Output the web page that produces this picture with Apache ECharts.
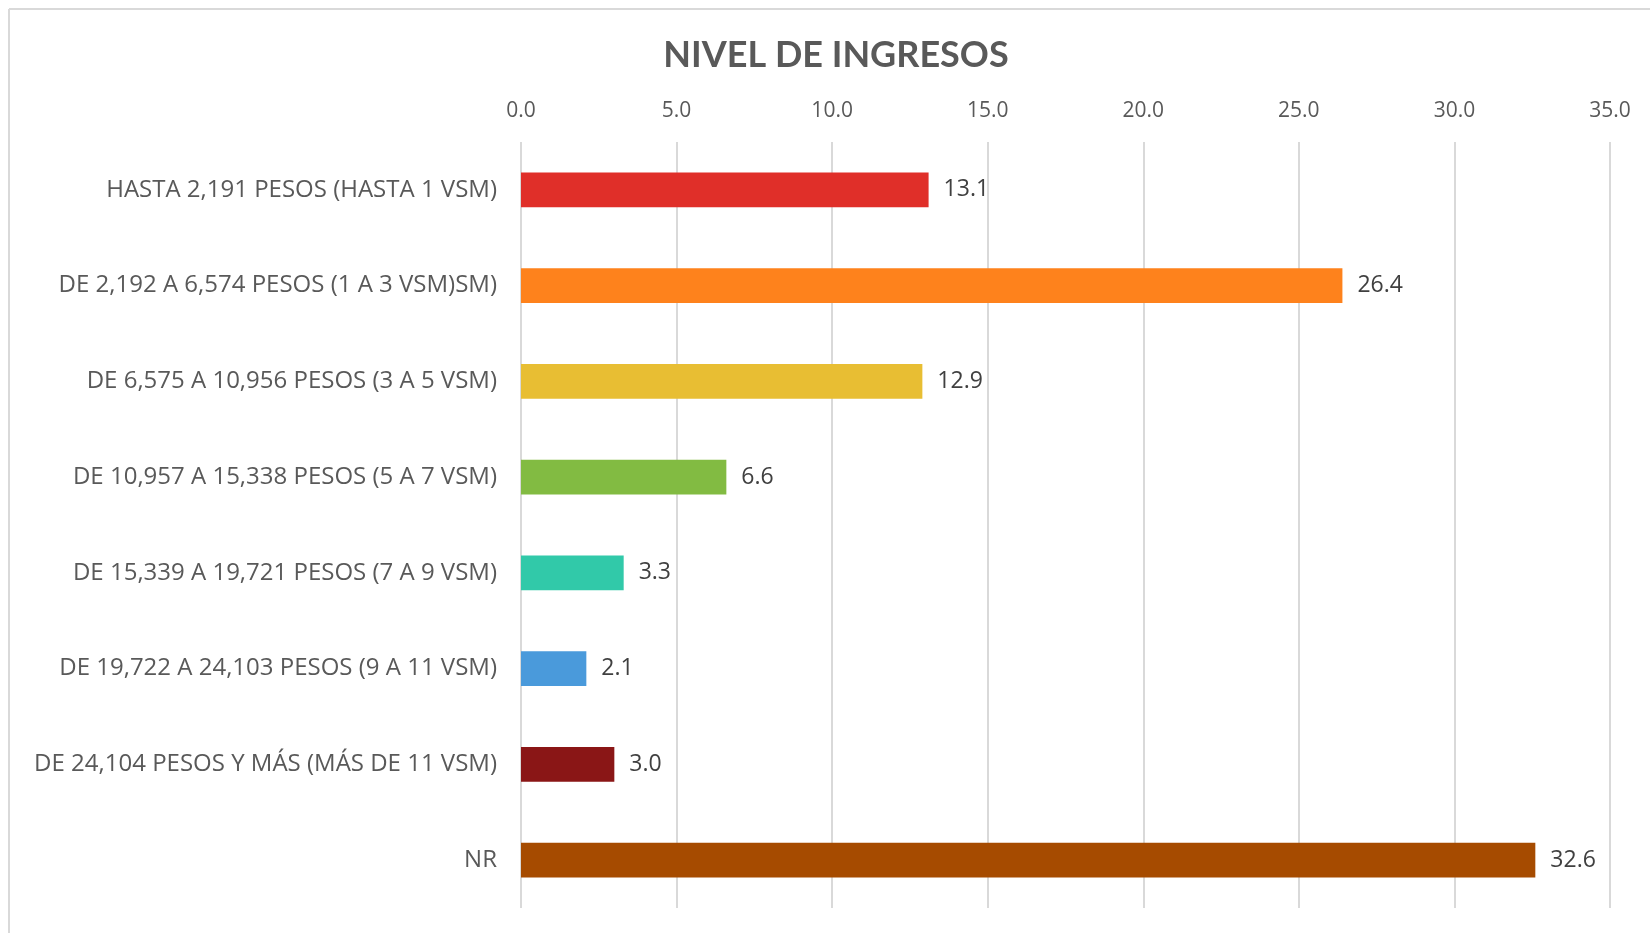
<!DOCTYPE html>
<html>
<head>
<meta charset="utf-8">
<script src="https://cdn.jsdelivr.net/npm/echarts@6/dist/echarts.min.js"></script>
<style>
  html, body { margin: 0; padding: 0; background: #fff; }
  #chart { width: 1650px; height: 933px; }
</style>
</head>
<body>
<div id="chart"></div>
<script>
var categorias = [
  'HASTA 2,191 PESOS (HASTA 1 VSM)',
  'DE 2,192 A 6,574 PESOS (1 A 3 VSM)SM)',
  'DE 6,575 A 10,956 PESOS (3 A 5 VSM)',
  'DE 10,957 A 15,338 PESOS (5 A 7 VSM)',
  'DE 15,339 A 19,721 PESOS (7 A 9 VSM)',
  'DE 19,722 A 24,103 PESOS (9 A 11 VSM)',
  'DE 24,104 PESOS Y MÁS (MÁS DE 11 VSM)',
  'NR'
];
var valores = [13.1, 26.4, 12.9, 6.6, 3.3, 2.1, 3.0, 32.6];
var colores = ['#e02f29', '#fe821c', '#e8be33', '#82bb42', '#31c9a9', '#4a9adb', '#8a1616', '#a64b00'];

var myChart = echarts.init(document.getElementById('chart'));
var fuenteTitulo = 'Lato, "Open Sans", sans-serif';
var fuente = '"Open Sans", Lato, sans-serif';

var option = {
  animation: false,
  backgroundColor: '#fff',
  title: {
    text: 'NIVEL DE INGRESOS',
    left: 831,
    top: 32,
    textAlign: 'center',
    textStyle: { fontFamily: fuenteTitulo, fontSize: 36, fontWeight: 'bold', color: '#595959' }
  },
  graphic: [
    { type: 'line', shape: { x1: 9, y1: 9, x2: 1650, y2: 9 }, style: { stroke: '#d9d9d9', lineWidth: 2 } },
    { type: 'line', shape: { x1: 9, y1: 9, x2: 9, y2: 933 }, style: { stroke: '#d9d9d9', lineWidth: 2 } }
  ],
  grid: { left: 521, right: 40, top: 142, bottom: 25, containLabel: false },
  xAxis: {
    type: 'value',
    position: 'top',
    min: 0,
    max: 35,
    interval: 5,
    axisLine: { show: false },
    axisTick: { show: false },
    axisLabel: {
      margin: 20,
      fontFamily: fuente,
      fontSize: 21,
      color: '#595959',
      formatter: function(v) { return v.toFixed(1); }
    },
    splitLine: { show: true, lineStyle: { color: '#d9d9d9', width: 2 } }
  },
  yAxis: {
    type: 'category',
    inverse: true,
    data: categorias,
    axisLine: { show: false },
    axisTick: { show: false },
    axisLabel: { margin: 24, fontFamily: fuente, fontSize: 24, color: '#595959', padding: [2, 0, 0, 0] }
  },
  series: [{
    type: 'bar',
    barWidth: '36.5%',
    data: valores.map(function(v, i) {
      return { value: v, itemStyle: { color: colores[i] } };
    }),
    label: {
      show: true,
      position: 'right',
      distance: 15,
      fontFamily: fuente,
      fontSize: 23,
      color: '#404040',
      padding: [4, 0, 0, 0],
      formatter: function(p) { return p.value.toFixed(1); }
    }
  }]
};
myChart.setOption(option);
</script>
</body>
</html>
